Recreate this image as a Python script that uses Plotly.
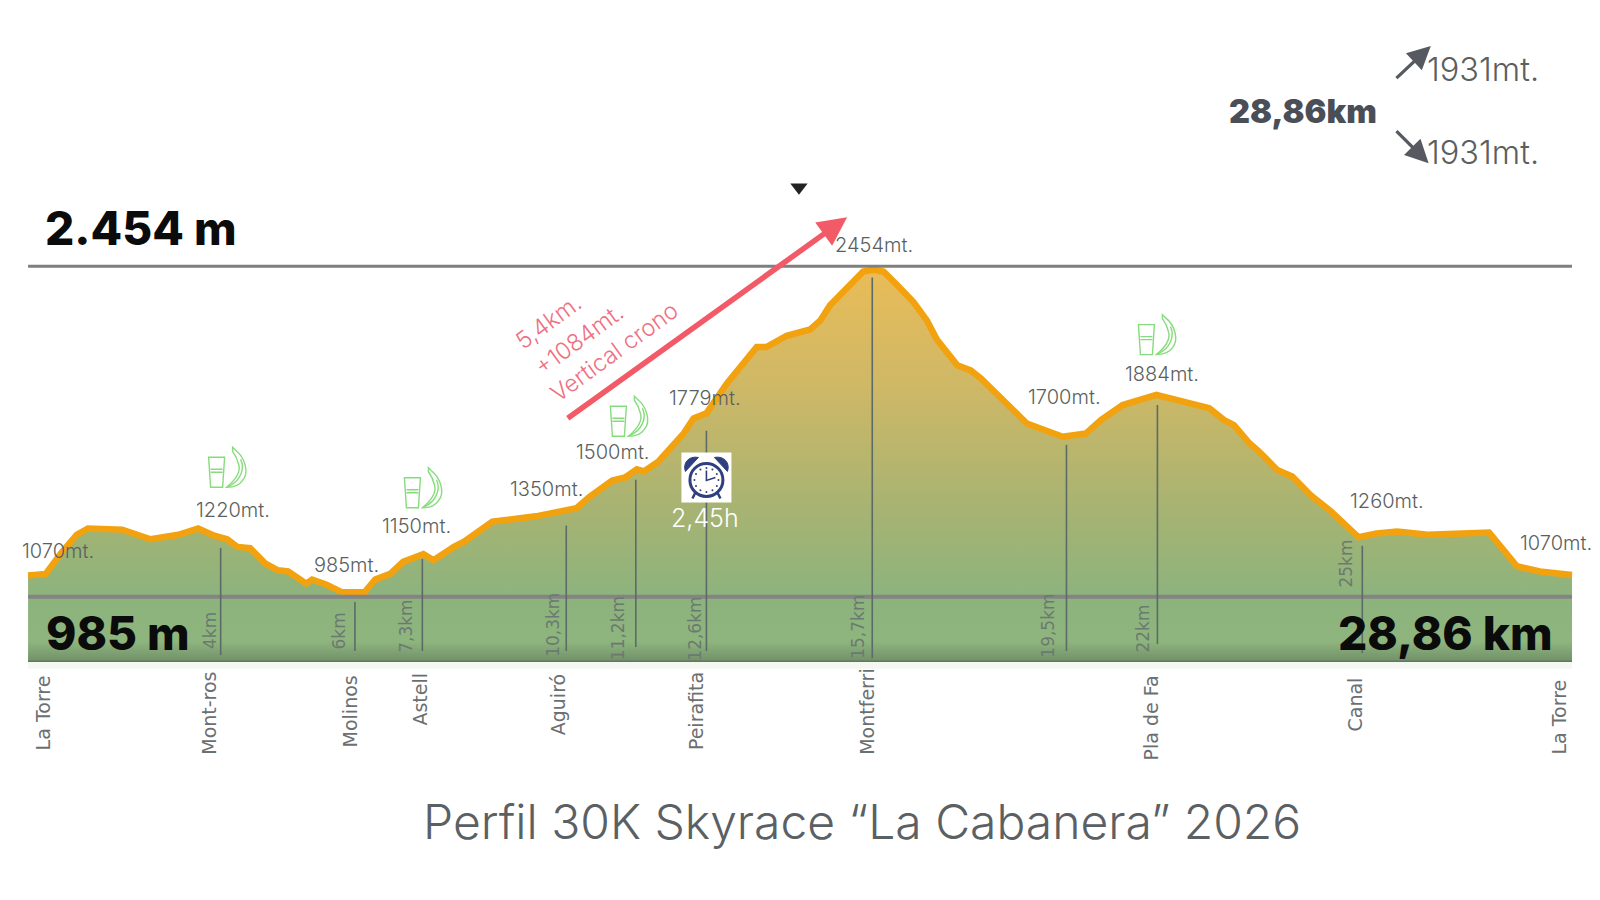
import math
import plotly.graph_objects as go

# ---- profile data (km, metres) ----
profile_km = [0, 0.33, 0.62, 0.91, 1.12, 1.76, 2.29, 2.81, 3.18, 3.48, 3.72, 3.91, 4.15, 4.43, 4.67, 4.86,
              5.20, 5.31, 5.58, 5.87, 6.29, 6.49, 6.77, 7.01, 7.39, 7.58, 7.96, 8.15, 8.68, 9.49, 10.25, 10.49,
              10.92, 11.16, 11.38, 11.51, 11.78, 12.26, 12.44, 12.68, 13.06, 13.25, 13.62, 13.80, 14.18, 14.62,
              14.81, 14.99, 15.31, 15.61, 15.80, 15.99, 16.24, 16.55, 16.80, 16.99, 17.37, 17.62, 17.81, 18.67,
              19.34, 19.77, 20.06, 20.46, 21.09, 22.08, 22.35, 22.54, 22.83, 23.01, 23.35, 23.63, 23.97, 24.35,
              24.87, 25.21, 25.59, 26.16, 27.31, 27.50, 27.83, 28.26, 28.86]
profile_m = [1079, 1086, 1179, 1260, 1288, 1283, 1240, 1260, 1288, 1256, 1240, 1206, 1201, 1133, 1102, 1097,
             1043, 1061, 1038, 1004, 1004, 1061, 1086, 1140, 1174, 1147, 1206, 1229, 1319, 1342, 1378, 1428,
             1501, 1515, 1551, 1542, 1585, 1712, 1778, 1800, 1932, 1991, 2095, 2095, 2145, 2173,
             2213, 2281, 2363, 2431, 2438, 2431, 2372, 2295, 2213, 2127, 2014, 1991, 1955, 1755,
             1696, 1710, 1771, 1837, 1882, 1823, 1771, 1748, 1667, 1630, 1548, 1519, 1437, 1365,
             1249, 1266, 1274, 1260, 1270, 1215, 1120, 1097, 1081]

top_m = 2454
low_m = 985
base_m = 698
total_km = 28.86

# ---- drop lines ----
drop_km = [3.60, 6.11, 7.37, 10.06, 11.36, 12.68, 15.78, 19.41, 21.11, 24.94]
drop_top = [1201, 961, 1152, 1301, 1505, 1723, 2404, 1660, 1837, 1211]
drop_bottom = [725, 743, 743, 743, 761, 743, 711, 743, 775, 734]

# ---- labels ----
elev_labels = ["1070mt.", "1220mt.", "985mt.", "1150mt.", "1350mt.", "1500mt.", "1779mt.", "2454mt.",
               "1700mt.", "1884mt.", "1260mt.", "1070mt."]
elev_label_km = [0.56, 3.84, 5.96, 7.26, 9.70, 10.94, 12.66, 15.82, 19.37, 21.20, 25.40, 28.56]
elev_label_m = [1188, 1369, 1124, 1297, 1465, 1628, 1869, 2549, 1873, 1977, 1410, 1224]

km_labels = ["4km", "6km", "7,3km", "10,3km", "11,2km", "12,6km", "15,7km", "19,5km", "22km", "25km"]
km_label_km = [3.39, 5.81, 7.05, 9.80, 11.02, 12.45, 15.50, 19.07, 20.84, 24.64]
km_label_m = [834, 834, 852, 861, 843, 843, 852, 857, 843, 1133]

stations = ["La Torre", "Mont-ros", "Molinos", "Astell", "Aguiró", "Peirafita", "Montferri", "Pla de Fa", "Canal", "La Torre"]
station_km = [0.28, 3.39, 6.02, 7.32, 9.91, 12.50, 15.69, 20.99, 24.81, 28.62]
station_m = [466, 466, 475, 530, 503, 475, 475, 448, 507, 448]

crono_lines = ["5,4km.", "+1084mt.", "Vertical crono"]
crono_km = [9.72, 10.29, 10.96]
crono_m = [2209, 2127, 2073]

food_km = [3.73, 7.39, 11.24, 21.11]
food_m = [1560, 1469, 1787, 2150]

clock_km = 12.68
clock_m = 1515

# ---- styles ----
INK = "#5b5f60"
KM_INK = "#6b7a70"
GREEN = "#86dc7c"
NAVY = "#2f3f80"

fig = go.Figure()

fig.add_trace(go.Scatter(x=[0, total_km], y=[base_m, base_m], mode="lines",
                         line=dict(color="#5f7a5c", width=1.5), hoverinfo="skip", showlegend=False))
fig.add_trace(go.Scatter(
    x=profile_km, y=profile_m, mode="lines", fill="tonexty",
    fillgradient=dict(type="vertical", start=top_m, stop=base_m,
                      colorscale=[[0, "#EABC58"], [0.3, "#CFB866"], [0.6, "#A9B372"],
                                  [0.8366, "#8DB37D"], [0.95, "#8FB57E"], [1, "#72906A"]]),
    line=dict(color="#F2A20F", width=6.5, shape="linear"),
    hoverinfo="skip", showlegend=False))

# horizontal reference lines
fig.add_trace(go.Scatter(x=[0, total_km], y=[top_m, top_m], mode="lines",
                         line=dict(color="#7f7f7f", width=3), hoverinfo="skip", showlegend=False))
fig.add_trace(go.Scatter(x=[0, total_km], y=[low_m, low_m], mode="lines",
                         line=dict(color="#858385", width=4), hoverinfo="skip", showlegend=False))

# drop lines
dx, dy = [], []
for k, t, b in zip(drop_km, drop_top, drop_bottom):
    dx += [k, k, None]
    dy += [t, b, None]
fig.add_trace(go.Scatter(x=dx, y=dy, mode="lines", line=dict(color="#5c6a68", width=1.6),
                         hoverinfo="skip", showlegend=False))

# small black marker above the chart
fig.add_trace(go.Scatter(x=[14.41], y=[2805], mode="markers",
                         marker=dict(symbol="triangle-down", size=15, color="#222222"),
                         hoverinfo="skip", showlegend=False))


def note(text, x, y, size, color, family="Inter", angle=0, weight=None, xanchor="center"):
    fig.add_annotation(x=x, y=y, text=text, showarrow=False, textangle=angle, xanchor=xanchor, yanchor="middle",
                       font=dict(family=family, size=size, color=color, weight=weight))


for t, x, y in zip(elev_labels, elev_label_km, elev_label_m):
    note(t, x, y, 20, INK, weight=300)
for t, x, y in zip(km_labels, km_label_km, km_label_m):
    note(t, x, y, 17, KM_INK, family="DejaVu Sans", angle=-90)
for t, x, y in zip(stations, station_km, station_m):
    note(t, x, y, 19, "#6c6f71", family="DejaVu Sans", angle=-90)
for t, x, y in zip(crono_lines, crono_km, crono_m):
    note(t, x, y, 23.5, "#EF7082", angle=-36, weight=300)

note("2.454 m", 0.27, 2625, 46, "#0b0b0b", weight=800, xanchor="left")
note("985 m", 0.30, 825, 46, "#0b0b0b", weight=800, xanchor="left")
note("28,86 km", 28.55, 825, 46, "#0b0b0b", weight=800, xanchor="right")
note("2,45h", 12.66, 1333, 25, "#ffffff", weight=300)
note("28,86km", 23.83, 3144, 32.5, "#4a4f57", weight=900)
note("1931mt.", 27.20, 3330, 32.5, INK, weight=300)
note("1931mt.", 27.20, 2958, 32.5, INK, weight=300)
note("Perfil 30K Skyrace “La Cabanera” 2026", 15.58, -16, 48, "#5a6064", weight=300)


def arrow(x0, y0, x1, y1, color, width, size):
    fig.add_annotation(x=x1, y=y1, ax=x0, ay=y0, axref="x", ayref="y", xref="x", yref="y", text="",
                       showarrow=True, arrowhead=2, arrowsize=size, arrowwidth=width, arrowcolor=color,
                       standoff=0, startstandoff=0)


arrow(10.06, 1773, 15.31, 2672, "#F25A68", 5.5, 1.05)
arrow(25.55, 3284, 26.22, 3434, "#565a60", 3.2, 1.45)
arrow(25.55, 3062, 26.18, 2912, "#565a60", 3.2, 1.45)

# ---- icons: sized in pixels, anchored at data positions ----
shapes = []


def icon_shape(xa, ya, **kw):
    base = dict(xref="x", yref="y", xsizemode="pixel", ysizemode="pixel", xanchor=xa, yanchor=ya, layer="above")
    base.update(kw)
    shapes.append(base)


for xa, ya in zip(food_km, food_m):
    ln = dict(color=GREEN, width=1.4)
    icon_shape(xa, ya, type="path", path="M -19 10 L -3 10 L -5 -20 L -17 -20 Z", line=ln)
    icon_shape(xa, ya, type="path", path="M -17 -2 L -5 -2 M -17 -5 L -5 -5", line=ln)
    icon_shape(xa, ya, type="path",
               path="M 5 20 L 8 17 C 17 10 22 -5 15 -13 C 11 -19 4 -20 -1 -20 C 5 -15 14 -6 11 3 C 10 8 8 12 5 16 Z",
               line=ln)
    icon_shape(xa, ya, type="path", path="M 13 8 C 18 -2 12 -14 1 -19", line=ln)

icon_shape(clock_km, clock_m, type="rect", x0=-25, x1=25, y0=-25, y1=25,
           fillcolor="#ffffff", line=dict(width=0))
icon_shape(clock_km, clock_m, type="circle", x0=-16.5, x1=16.5, y0=-19, y1=14,
           fillcolor="#ffffff", line=dict(color=NAVY, width=3))
icon_shape(clock_km, clock_m, type="path", path="M -21 6 C -24 14 -18 22 -8 20 Z",
           fillcolor=NAVY, line=dict(color=NAVY, width=1))
icon_shape(clock_km, clock_m, type="path", path="M 21 6 C 24 14 18 22 8 20 Z",
           fillcolor=NAVY, line=dict(color=NAVY, width=1))
icon_shape(clock_km, clock_m, type="path", path="M -11 -15 L -14 -21 M 11 -15 L 14 -21",
           line=dict(color=NAVY, width=2.5))
icon_shape(clock_km, clock_m, type="path", path="M 0 7 L 0 -3 L 9 0", line=dict(color=NAVY, width=1.6))
for i in range(12):
    a = math.pi * i / 6
    cx, cy = 12 * math.cos(a), -2.5 + 12 * math.sin(a)
    icon_shape(clock_km, clock_m, type="circle", x0=cx - 1, x1=cx + 1, y0=cy - 1, y1=cy + 1,
               fillcolor=NAVY, line=dict(width=0))

# pale band under the baseline
shapes.append(dict(type="rect", xref="x", yref="y", x0=0, x1=total_km, y0=664, y1=base_m,
                   fillcolor="#f5f7f2", line=dict(width=0), layer="below"))

fig.update_layout(
    width=1600, height=900, margin=dict(l=0, r=0, t=0, b=0),
    paper_bgcolor="#ffffff", plot_bgcolor="#ffffff", showlegend=False, hovermode=False,
    xaxis=dict(visible=False, range=[-0.5245, 29.383], domain=[0, 1], fixedrange=True),
    yaxis=dict(visible=False, range=[-364, 3638], domain=[0, 1], fixedrange=True),
    shapes=shapes,
)

fig.write_html("out.html", config={"displayModeBar": False},
               post_script="document.body.style.margin='0';document.body.style.overflow='hidden';")
